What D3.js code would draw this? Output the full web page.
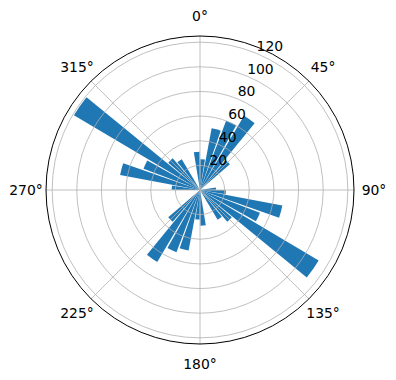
<!DOCTYPE html>
<html><head><meta charset="utf-8">
<script src="https://cdn.jsdelivr.net/npm/d3@7"></script>
<style>body{margin:0;background:#fff;} text{font-family:"DejaVu Sans",sans-serif;}</style>
</head><body>
<svg id="chart" width="396" height="380"></svg>
<script>
// Bar directions (degrees, clockwise from north) and their lengths
const angles = [5,15,25,35,45,55,65,75,85,95,105,115,125,135,145,155,165,175,185,195,205,215,225,235,245,255,265,275,285,295,305,315,325,335,345,355];
const values = [25,51,60,70,32,0,0,0,13,21,68,52,112,34,28,0,0,29,24,50,54,68,34,0,0,0,0,23,66,49,119,34,29,0,0,31];
const radialTicks = [20,40,60,80,100,120];
const angleTicks = [0,45,90,135,180,225,270,315];
const angleLabels = ["0°","45°","90°","135°","180°","225°","270°","315°"];
const rMax = 125;
const barWidthDeg = 8.6;

const svg = d3.select("#chart");
const cx = 200, cy = 190, R = 154;
const g = svg.append("g").attr("transform", `translate(${cx},${cy})`);
const r = d3.scaleLinear().domain([0, rMax]).range([0, R]);
const a = d3.scaleLinear().domain([0, 360]).range([0, 2*Math.PI]);

const arc = d3.arc()
  .innerRadius(0)
  .outerRadius(d => r(d.v))
  .startAngle(d => a(d.ang - barWidthDeg/2))
  .endAngle(d => a(d.ang + barWidthDeg/2));

const data = angles.map((ang,i)=>({ang, v: values[i]}));
g.selectAll("path.bar").data(data.filter(d=>d.v>0)).join("path")
  .attr("class","bar").attr("d", arc).attr("fill","#1f77b4");

// grid circles
g.selectAll("circle.grid").data(radialTicks).join("circle")
  .attr("r", d=>r(d)).attr("fill","none").attr("stroke","#b0b0b0").attr("stroke-width",0.8);
// spokes
g.selectAll("line.spoke").data(angleTicks).join("line")
  .attr("x1",0).attr("y1",0)
  .attr("x2", d=>R*Math.sin(a(d))).attr("y2", d=>-R*Math.cos(a(d)))
  .attr("stroke","#b0b0b0").attr("stroke-width",0.8);
// outer spine
g.append("circle").attr("r",R).attr("fill","none").attr("stroke","#000").attr("stroke-width",1);

// radial labels at 22.5°
const la = a(22.5);
g.selectAll("text.rlab").data(radialTicks).join("text")
  .attr("x", d=>r(d)*Math.sin(la))
  .attr("y", d=>-r(d)*Math.cos(la) - 2.5)
  .attr("font-size", 13.9).attr("text-anchor","start").attr("fill","#000")
  .text(d=>d);

// angle labels
const LR = 174;
g.selectAll("text.alab").data(angleTicks).join("text")
  .attr("x", d=>LR*Math.sin(a(d)))
  .attr("y", d=>-LR*Math.cos(a(d)))
  .attr("dy","0.35em")
  .attr("font-size", 13.9).attr("text-anchor","middle").attr("fill","#000")
  .text((d,i)=>angleLabels[i]);
</script>
</body></html>
